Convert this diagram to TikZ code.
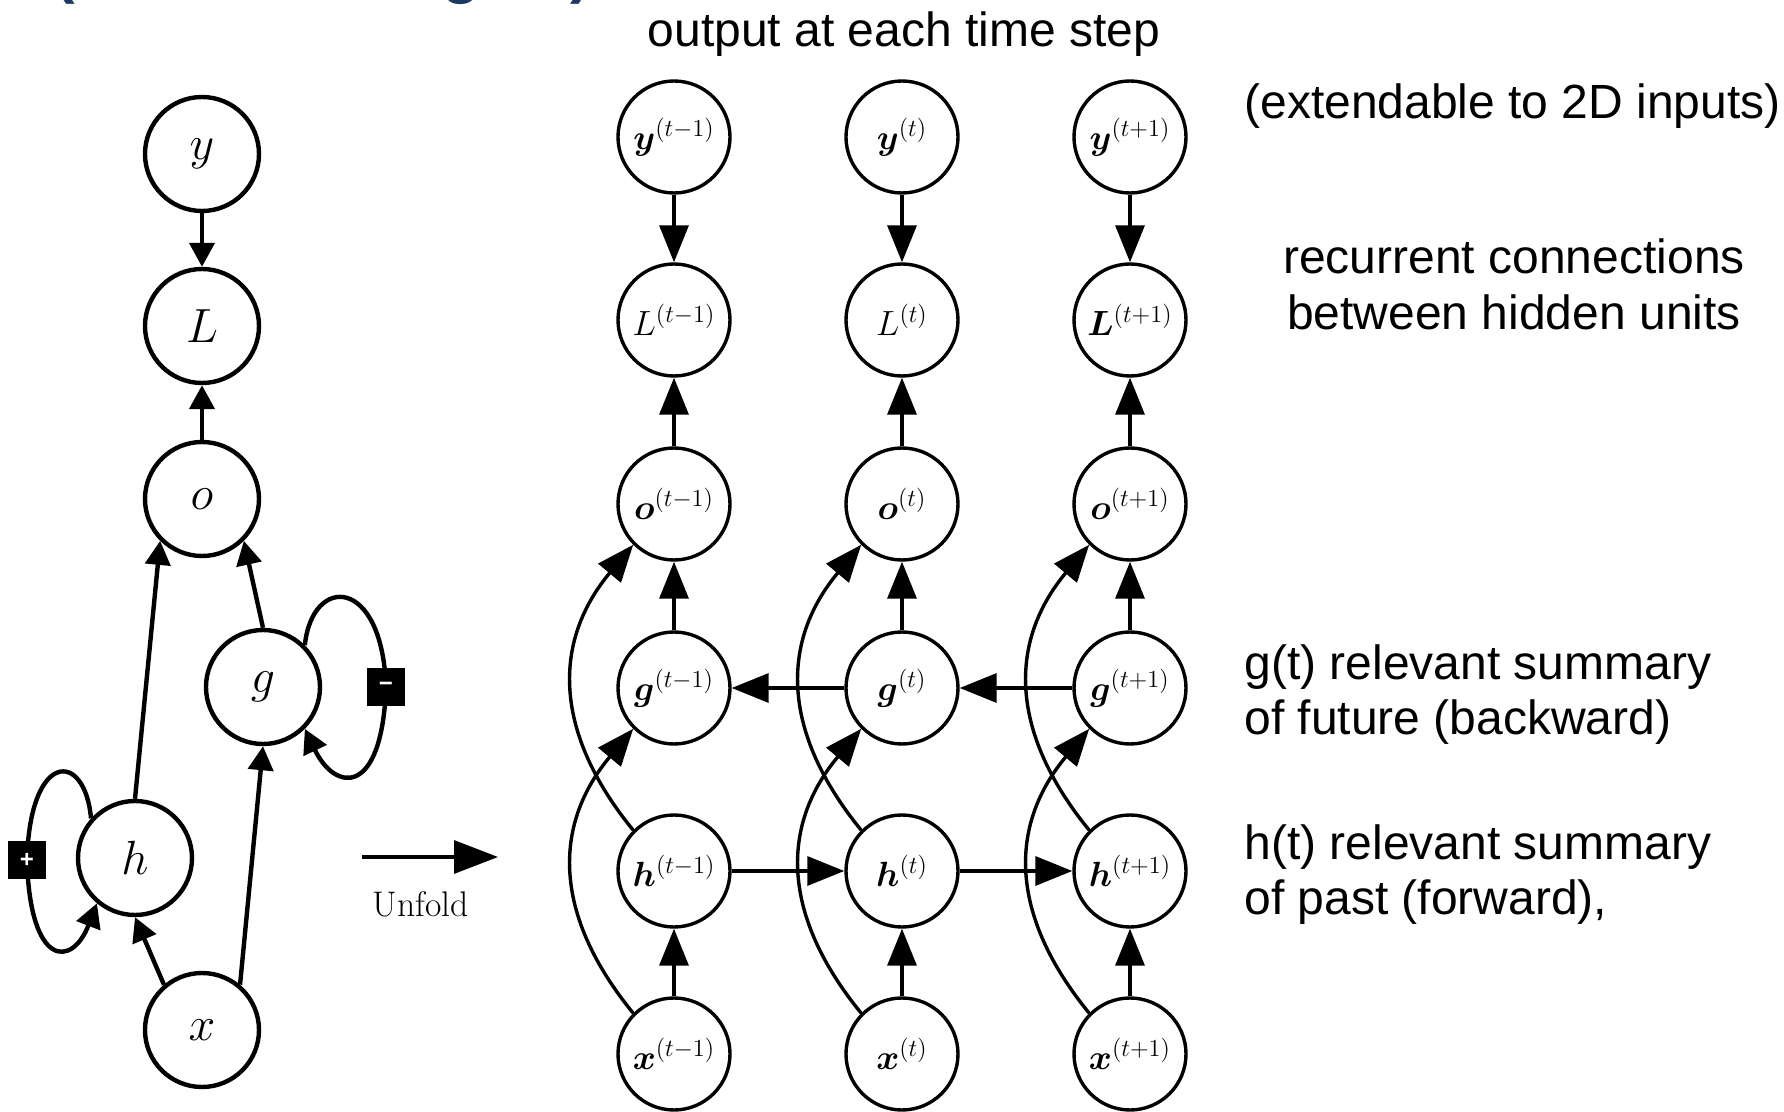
\RequirePackage{fix-cm}
\documentclass[tikz,border=0pt]{standalone}
\usepackage{amsmath}
\usepackage{bm}
\usepackage{fontspec}
\usetikzlibrary{arrows.meta}
\newfontfamily\arialfont{Liberation Sans}
\definecolor{titleblue}{RGB}{30,56,98}

\begin{document}
\begin{tikzpicture}[x=0.5pt,y=-0.5pt,
  bignode/.style={circle,draw,line width=2.2pt,minimum size=57pt,inner sep=0pt,font=\fontsize{24}{28}\selectfont},
  unode/.style={circle,draw,line width=1.7pt,minimum size=56pt,inner sep=0pt,font=\fontsize{17.5}{21}\selectfont},
  larr/.style={line width=2.2pt,-{Triangle[length=12pt,width=12.5pt]}},
  rarr/.style={line width=1.7pt,-{Triangle[length=18.5pt,width=14.5pt]}},
  signbox/.style={fill=black,minimum size=19pt,inner sep=0pt,text=white,font=\arialfont\bfseries\fontsize{12}{12}\selectfont},
  txt/.style={font=\arialfont\fontsize{24}{27.5}\selectfont,inner sep=0pt},
  frag/.style={anchor=base west,inner sep=0pt,text=titleblue,font=\arialfont\bfseries\fontsize{31}{31}\selectfont},
]
\useasboundingbox (0,0) rectangle (1784,1112);

% cut-off title fragments
\begin{scope}
\clip (0,0) rectangle (1784,1112);
\node[frag] (f1) at (54,-8) {(};
\node[frag] (f2) at (442,-8) {g};
\node[frag] (f3) at (570,-8) {)};
\end{scope}

% ---------- left (folded) graph ----------
\node[bignode] (ly) at (202,154) {$y$};
\node[bignode] (lL) at (202,326) {$L$};
\node[bignode] (lo) at (202,499) {$o$};
\node[bignode] (lg) at (263,687) {$g$};
\node[bignode] (lh) at (135,858) {$h$};
\node[bignode] (lx) at (202,1030) {$x$};

\draw[larr] (ly) -- (lL);
\draw[larr] (lo) -- (lL);
\draw[larr] (lh.north) -- (lo.225);
\draw[larr] (lg.north) -- (lo.315);
\draw[larr] (lx.130) -- (lh.south);
\draw[larr] (lx.50) -- (lg.south);

\draw[larr] (lh.138) .. controls (85,750) and (30,750) .. (27,860)
  node[signbox] (plus) {+}
  .. controls (30,968) and (72,968) .. (lh.230);
\draw[larr] (lg.45) .. controls (312,575) and (382,575) .. (386,687)
  node[signbox] (minus) {−}
  .. controls (382,798) and (335,792) .. (lg.-45);

% unfold arrow
\coordinate (ua) at (362,857);
\coordinate (ub) at (498,857);
\draw[line width=1.65pt,-{Triangle[length=22pt,width=16.5pt]}] (ua) -- (ub);
\node[anchor=base,inner sep=0pt,font=\fontsize{17.8}{20}\selectfont] (unfold) at (421,916) {Unfold};

% ---------- right (unfolded) graph ----------
\node[unode] (y1) at (674,137) {$\bm{y}^{(t-1)}$};
\node[unode] (y2) at (902,137) {$\bm{y}^{(t)}$};
\node[unode] (y3) at (1130,137) {$\bm{y}^{(t+1)}$};
\node[unode] (L1) at (674,320) {$L^{(t-1)}$};
\node[unode] (L2) at (902,320) {$L^{(t)}$};
\node[unode] (L3) at (1130,320) {$\bm{L}^{(t+1)}$};
\node[unode] (o1) at (674,504) {$\bm{o}^{(t-1)}$};
\node[unode] (o2) at (902,504) {$\bm{o}^{(t)}$};
\node[unode] (o3) at (1130,504) {$\bm{o}^{(t+1)}$};
\node[unode] (g1) at (674,688) {$\bm{g}^{(t-1)}$};
\node[unode] (g2) at (902,688) {$\bm{g}^{(t)}$};
\node[unode] (g3) at (1130,688) {$\bm{g}^{(t+1)}$};
\node[unode] (h1) at (674,871) {$\bm{h}^{(t-1)}$};
\node[unode] (h2) at (902,871) {$\bm{h}^{(t)}$};
\node[unode] (h3) at (1130,871) {$\bm{h}^{(t+1)}$};
\node[unode] (x1) at (674,1054) {$\bm{x}^{(t-1)}$};
\node[unode] (x2) at (902,1054) {$\bm{x}^{(t)}$};
\node[unode] (x3) at (1130,1054) {$\bm{x}^{(t+1)}$};

\foreach \c in {1,2,3} {
  \draw[rarr] (y\c) -- (L\c);
  \draw[rarr] (o\c) -- (L\c);
  \draw[rarr] (g\c) -- (o\c);
  \draw[rarr] (x\c) -- (h\c);
  \draw[rarr] (h\c.135) .. controls +(-80,-98) and +(-81,97) .. (o\c.225);
  \draw[rarr] (x\c.135) .. controls +(-80,-98) and +(-81,97) .. (g\c.225);
}
\draw[rarr] (h1) -- (h2);
\draw[rarr] (h2) -- (h3);
\draw[rarr] (g3) -- (g2);
\draw[rarr] (g2) -- (g1);

% ---------- texts ----------
\node[txt,anchor=base] (top) at (904,47) {output at each time step};
\node[txt,anchor=base west] (ext) at (1244,119) {(extendable to 2D inputs)};
\node[txt,anchor=base] (rec1) at (1514,274) {recurrent connections};
\node[txt,anchor=base] (rec2) at (1514,330) {between hidden units};
\node[txt,anchor=base west] (gt1) at (1244,679) {g(t) relevant summary};
\node[txt,anchor=base west] (gt2) at (1244,734) {of future (backward)};
\node[txt,anchor=base west] (ht1) at (1244,859) {h(t) relevant summary};
\node[txt,anchor=base west] (ht2) at (1244,914) {of past (forward),};
\end{tikzpicture}
\end{document}
